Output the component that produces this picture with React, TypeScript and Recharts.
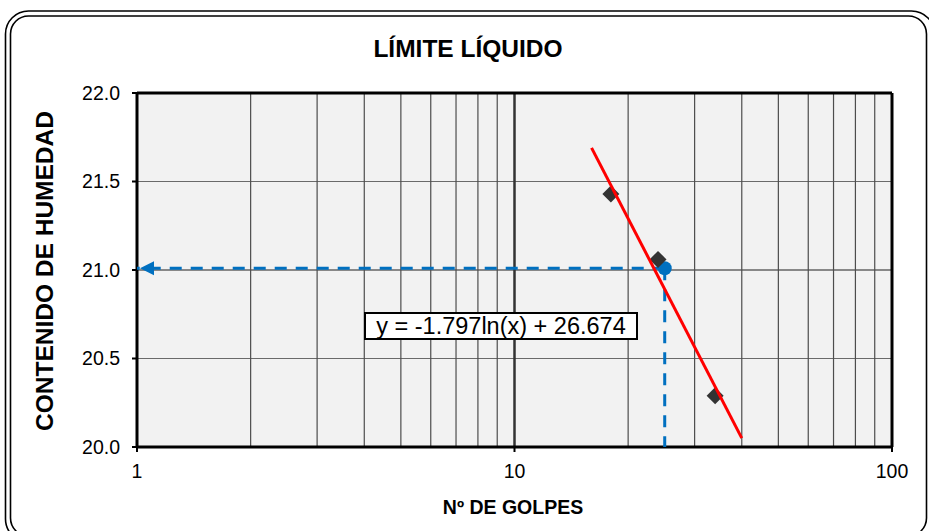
import React from 'react';
import { ComposedChart, Scatter, XAxis, YAxis, CartesianGrid, ReferenceLine } from 'recharts';

const golpes = [18, 24, 34];
const humedad = [21.43, 21.06, 20.29];
const trendGolpes = [16, 40];
const trendHumedad = [21.69, 20.05];
const limiteGolpes = 25;
const limiteHumedad = 21.01;
const xTicks = [1, 10, 100];
const yTicks = [20.0, 20.5, 21.0, 21.5, 22.0];
const minorX = [2, 3, 4, 5, 6, 7, 8, 9, 20, 30, 40, 50, 60, 70, 80, 90];
const majorX = [10];
const gridY = [20.5, 21.0, 21.5];
const title = 'LÍMITE LÍQUIDO';
const xTitle = 'Nº DE GOLPES';
const yTitle = 'CONTENIDO DE HUMEDAD';
const equation = 'y = -1.797ln(x) + 26.674';

const FONT = '"Liberation Sans", Arial, sans-serif';
const BLUE = '#0070C0';

const points = golpes.map((g, i) => ({ x: g, y: humedad[i] }));
const trend = trendGolpes.map((g, i) => ({ x: g, y: trendHumedad[i] }));
const limitPoint = [{ x: limiteGolpes, y: limiteHumedad }];
const hLine = [{ x: limiteGolpes, y: limiteHumedad }, { x: xTicks[0], y: limiteHumedad }];
const vLine = [{ x: limiteGolpes, y: limiteHumedad }, { x: limiteGolpes, y: yTicks[0] }];
const arrowPoint = [{ x: xTicks[0], y: limiteHumedad }];

const Diamond = (props: any) => {
  const { cx, cy } = props;
  const r = 8.5;
  return <polygon points={`${cx},${cy - r} ${cx + r},${cy} ${cx},${cy + r} ${cx - r},${cy}`} fill="#333333" />;
};
const Circle = (props: any) => <circle cx={props.cx} cy={props.cy} r={7} fill={BLUE} />;
const Arrow = (props: any) => {
  const { cx, cy } = props;
  return <polygon points={`${cx + 3},${cy} ${cx + 17},${cy - 7} ${cx + 17},${cy + 7}`} fill={BLUE} />;
};
const None = () => <g />;

export default function App() {
  return (
    <div style={{ position: 'absolute', left: 0, top: 0, width: 929, height: 531, background: '#fff', fontFamily: FONT, overflow: 'hidden' }}>
      <ComposedChart width={929} height={531} margin={{ top: 93, right: 37, bottom: 54, left: 77 }}>
        <CartesianGrid fill="#f2f2f2" vertical={false} horizontalValues={gridY} stroke="#5a5a5a" strokeWidth={1.2} />
        <XAxis
          type="number"
          dataKey="x"
          scale="log"
          domain={[1, 100]}
          ticks={xTicks}
          allowDataOverflow
          height={30}
          tickSize={5}
          tickMargin={12}
          axisLine={{ stroke: '#000', strokeWidth: 3 }}
          tickLine={{ stroke: '#000', strokeWidth: 2 }}
          tick={{ fill: '#000', fontSize: 19.5, fontFamily: FONT }}
        />
        <YAxis
          type="number"
          dataKey="y"
          domain={[20, 22]}
          ticks={yTicks}
          allowDataOverflow
          width={60}
          tickSize={5}
          tickMargin={12}
          tickFormatter={(v: number) => v.toFixed(1)}
          axisLine={{ stroke: '#000', strokeWidth: 3 }}
          tickLine={{ stroke: '#000', strokeWidth: 2 }}
          tick={{ fill: '#000', fontSize: 19.5, fontFamily: FONT }}
        />
        {gridY.map((v) => (
          <ReferenceLine key={'gy' + v} y={v} stroke="#6a6a6a" strokeWidth={1.2} />
        ))}
        {minorX.map((v) => (
          <ReferenceLine key={'gx' + v} x={v} stroke="#4d4d4d" strokeWidth={1.2} />
        ))}
        {majorX.map((v) => (
          <ReferenceLine key={'mx' + v} x={v} stroke="#333" strokeWidth={2.5} />
        ))}
        <ReferenceLine y={22} stroke="#000" strokeWidth={3} />
        <ReferenceLine x={100} stroke="#000" strokeWidth={3} />
        <Scatter data={hLine} line={{ stroke: BLUE, strokeWidth: 3, strokeDasharray: '12 9' }} shape={None} isAnimationActive={false} />
        <Scatter data={vLine} line={{ stroke: BLUE, strokeWidth: 3, strokeDasharray: '12 9' }} shape={None} isAnimationActive={false} />
        <Scatter data={arrowPoint} shape={Arrow} isAnimationActive={false} />
        <Scatter data={limitPoint} shape={Circle} isAnimationActive={false} />
        <Scatter data={points} shape={Diamond} isAnimationActive={false} />
        <Scatter data={trend} line={{ stroke: '#ff0000', strokeWidth: 3 }} shape={None} isAnimationActive={false} />
      </ComposedChart>
      <svg width={929} height={531} style={{ position: 'absolute', left: 0, top: 0, pointerEvents: 'none' }}>
        <rect x={5.5} y={11} width={929} height={531} rx={23} ry={23} fill="none" stroke="#000" strokeWidth={1.6} />
        <rect x={10.5} y={16} width={916} height={520} rx={18} ry={18} fill="none" stroke="#000" strokeWidth={1.6} />
        <text x={468} y={57} textAnchor="middle" fontSize={24.5} fontWeight="bold" fontFamily={FONT} fill="#000">{title}</text>
        <text x={513} y={514} textAnchor="middle" fontSize={19.5} fontWeight="bold" fontFamily={FONT} fill="#000">{xTitle}</text>
        <text x={52.5} y={271} textAnchor="middle" fontSize={24.5} fontWeight="bold" fontFamily={FONT} fill="#000" transform="rotate(-90 52.5 271)">{yTitle}</text>
      </svg>
      <div style={{ position: 'absolute', left: 364, top: 312, width: 270, height: 24, border: '2px solid #000', background: '#fff', fontSize: 23.5, lineHeight: '24px', textAlign: 'center', fontFamily: FONT, color: '#000', whiteSpace: 'nowrap' }}>
        {equation}
      </div>
    </div>
  );
}
